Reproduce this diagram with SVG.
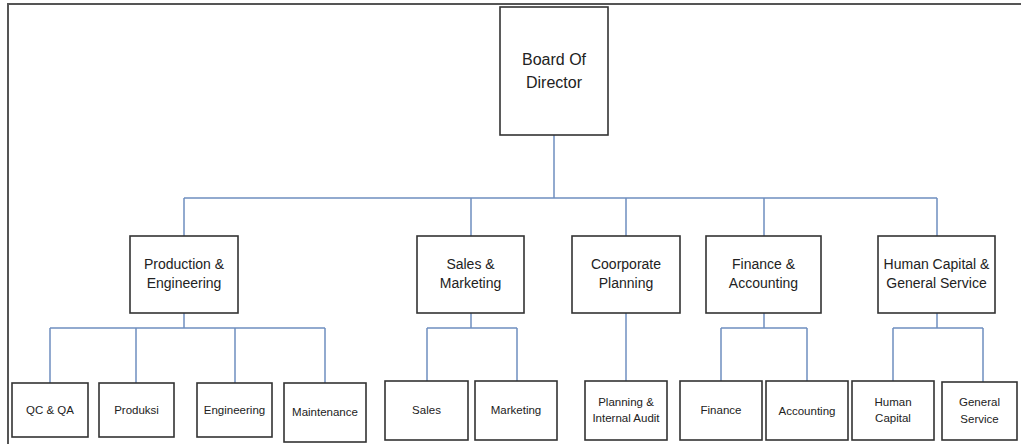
<svg xmlns="http://www.w3.org/2000/svg" width="1021" height="444" viewBox="0 0 1021 444">
<style>
.box{fill:#fff;stroke:#333;stroke-width:1.6}
.t{font-family:"Liberation Sans",Arial,sans-serif;fill:#222;text-anchor:middle}
.big{font-size:16px}
.mid{font-size:14px}
.sm{font-size:11.5px}
.conn{fill:none;stroke:#6f8fc0;stroke-width:1.5}
.frame{fill:none;stroke:#555;stroke-width:2}
</style>
<rect x="0" y="0" width="1021" height="444" fill="#fff"/>
<path class="frame" d="M8,444 V4 H1021"/>
<g id="connectors">
<path class="conn" d="M554,135 V198 M184,198 H937 M184,198 V236 M471,198 V236 M626,198 V236 M764,198 V236 M937,198 V236"/>
<path class="conn" d="M184,313 V328 M50,328 H325 M50,328 V383 M136,328 V383 M235,328 V383 M325,328 V383"/>
<path class="conn" d="M471,313 V328 M427,328 H517 M427,328 V381 M517,328 V381"/>
<path class="conn" d="M626,313 V381"/>
<path class="conn" d="M764,313 V328 M721,328 H807 M721,328 V381 M807,328 V381"/>
<path class="conn" d="M937,313 V328 M893,328 H983 M893,328 V382 M983,328 V382"/>
</g>
<g id="board"><rect class="box" x="500" y="7" width="108" height="128"/><text class="t big" x="554" y="65">Board Of</text><text class="t big" x="554" y="88">Director</text></g>
<g id="production"><rect class="box" x="130" y="236" width="108" height="77"/><text class="t mid" x="184" y="269">Production &amp;</text><text class="t mid" x="184" y="288">Engineering</text></g>
<g id="sales-marketing"><rect class="box" x="417" y="236" width="107" height="77"/><text class="t mid" x="470.5" y="269">Sales &amp;</text><text class="t mid" x="470.5" y="288">Marketing</text></g>
<g id="corporate"><rect class="box" x="572" y="236" width="108" height="77"/><text class="t mid" x="626" y="269">Coorporate</text><text class="t mid" x="626" y="288">Planning</text></g>
<g id="finance-accounting"><rect class="box" x="706" y="236" width="115" height="77"/><text class="t mid" x="763.5" y="269">Finance &amp;</text><text class="t mid" x="763.5" y="288">Accounting</text></g>
<g id="human-capital-gs"><rect class="box" x="878" y="236" width="117" height="77"/><text class="t mid" x="936.5" y="269">Human Capital &amp;</text><text class="t mid" x="936.5" y="288">General Service</text></g>
<g id="qcqa"><rect class="box" x="12" y="383" width="76" height="54"/><text class="t sm" x="50" y="414">QC &amp; QA</text></g>
<g id="produksi"><rect class="box" x="99" y="383" width="75" height="54"/><text class="t sm" x="136.5" y="414">Produksi</text></g>
<g id="engineering"><rect class="box" x="197" y="383" width="75" height="54"/><text class="t sm" x="234.5" y="414">Engineering</text></g>
<g id="maintenance"><rect class="box" x="284" y="383" width="82" height="59"/><text class="t sm" x="325" y="416">Maintenance</text></g>
<g id="sales"><rect class="box" x="385" y="381" width="83" height="59"/><text class="t sm" x="426.5" y="414">Sales</text></g>
<g id="marketing"><rect class="box" x="475" y="381" width="82" height="59"/><text class="t sm" x="516" y="414">Marketing</text></g>
<g id="planning-audit"><rect class="box" x="585" y="381" width="82" height="59"/><text class="t sm" x="626" y="406">Planning &amp;</text><text class="t sm" x="626" y="422">Internal Audit</text></g>
<g id="finance"><rect class="box" x="680" y="381" width="82" height="59"/><text class="t sm" x="721" y="414">Finance</text></g>
<g id="accounting"><rect class="box" x="766" y="381" width="82" height="59"/><text class="t sm" x="807" y="415">Accounting</text></g>
<g id="human-capital"><rect class="box" x="852" y="381" width="82" height="59"/><text class="t sm" x="893" y="406">Human</text><text class="t sm" x="893" y="422">Capital</text></g>
<g id="general-service"><rect class="box" x="942" y="382" width="75" height="58"/><text class="t sm" x="979.5" y="406">General</text><text class="t sm" x="979.5" y="423">Service</text></g>
</svg>
